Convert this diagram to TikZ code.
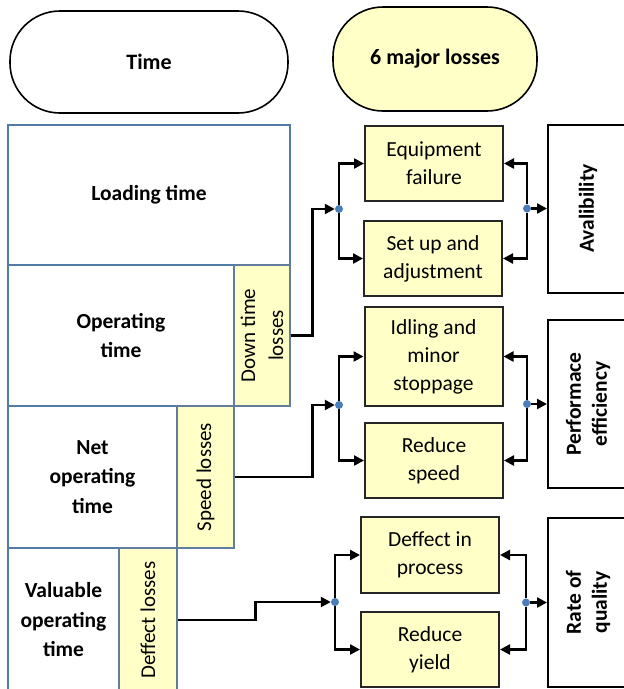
\documentclass[tikz,border=0pt]{standalone}
\usepackage{fontspec}
\setmainfont{Carlito}
\usetikzlibrary{arrows.meta, positioning}
\definecolor{boxblue}{RGB}{84, 122, 168}
\definecolor{lossyellow}{RGB}{255, 255, 200}
\definecolor{dotblue}{RGB}{74, 126, 187}

\begin{document}
\begin{tikzpicture}[
    x=1pt, y=-1pt,
    pill/.style={rectangle, rounded corners=50pt, draw=black, line width=1.6pt, align=center, font=\fontsize{22}{26}\selectfont\bfseries},
    timebox/.style={rectangle, draw=boxblue, fill=white, line width=1.6pt, align=center, font=\fontsize{21.5}{29.5}\selectfont\bfseries},
    lossstrip/.style={rectangle, draw=boxblue!70!gray, fill=lossyellow, line width=1.2pt, rotate=90, align=center, font=\fontsize{21}{28}\selectfont},
    lossbox/.style={rectangle, draw=black!85, fill=lossyellow, line width=2pt, minimum width=138pt, align=center, font=\fontsize{21.5}{28}\selectfont},
    ratiobox/.style={rectangle, draw=black, fill=white, line width=2pt, rotate=90, minimum height=80pt, align=center, font=\fontsize{21.5}{26}\selectfont\bfseries},
    junction/.style={circle, fill=dotblue, inner sep=0pt, minimum size=8pt},
    arrow/.style={line width=2.4pt, -{Triangle[length=10pt, width=10pt]}}
]
    \useasboundingbox (0,0) rectangle (624,689);
    \clip (0,0) rectangle (624,689);

    % headers
    \node (time) [pill, minimum width=278pt, minimum height=102pt] at (149,62) {Time};
    \node (major) [pill, fill=lossyellow, minimum width=204pt, minimum height=104pt] at (435,59) {6 major losses};

    % time stack
    \node (loading) [timebox, minimum width=282pt, minimum height=140pt] at (149,195) {Loading time};
    \node (operating) [timebox, minimum width=226pt, minimum height=141pt] at (121,335.5) {Operating\\time};
    \node (downtime) [lossstrip, minimum width=141pt, minimum height=56pt] at (262,335.5) {Down time\\losses};
    \node (netop) [timebox, minimum width=169pt, minimum height=142pt] at (92.5,477) {Net\\operating\\time};
    \node (speed) [lossstrip, minimum width=142pt, minimum height=57pt] at (205.5,477) {Speed losses};
    \node (valuable) [timebox, minimum width=111pt, minimum height=144pt] at (63.5,620) {Valuable\\operating\\time};
    \node (deffect) [lossstrip, minimum width=144pt, minimum height=58pt] at (148,620) {Deffect losses};

    % six losses
    \node (equip) [lossbox, minimum height=75pt] at (434,163.5) {Equipment\\failure};
    \node (setup) [lossbox, minimum height=75pt] at (433,258.5) {Set up and\\adjustment};
    \node (idling) [lossbox, minimum height=99pt] at (433.5,356.5) {Idling and\\minor\\stoppage};
    \node (redspeed) [lossbox, minimum height=75pt] at (434,460.5) {Reduce\\speed};
    \node (process) [lossbox, minimum height=76pt] at (430,555) {Deffect in\\process};
    \node (yield) [lossbox, minimum height=75pt] at (430,649.5) {Reduce\\yield};

    % ratios
    \node (avail) [ratiobox, minimum width=168pt] at (588,208.5) {Avalibility};
    \node (perf) [ratiobox, minimum width=168pt] at (588,404) {Performace\\efficiency};
    \node (quality) [ratiobox, minimum width=169pt] at (588,602.5) {Rate of\\quality};

    % junctions
    \node (jA) [junction] at (339,209) {};
    \node (jB) [junction] at (339,405) {};
    \node (jC) [junction] at (335,602) {};
    \node (kA) [junction] at (527,208.5) {};
    \node (kB) [junction] at (527,404) {};
    \node (kC) [junction] at (526,602.5) {};

    % connectors
    \draw [arrow] (downtime.south) -- ++(22,0) |- (jA);
    \draw [arrow] (speed.south) -- ++(78,0) |- (jB);
    \draw [arrow] (deffect.south) -- ++(78,0) |- (jC);

    \draw [arrow] (jA) |- (equip);
    \draw [arrow] (jA) |- (setup);
    \draw [arrow] (jB) |- (idling);
    \draw [arrow] (jB) |- (redspeed);
    \draw [arrow] (jC) |- (process);
    \draw [arrow] (jC) |- (yield);

    \draw [arrow] (kA) |- (equip);
    \draw [arrow] (kA) |- (setup);
    \draw [arrow] (kB) |- (idling);
    \draw [arrow] (kB) |- (redspeed);
    \draw [arrow] (kC) |- (process);
    \draw [arrow] (kC) |- (yield);

    \draw [arrow] (kA) -- (avail);
    \draw [arrow] (kB) -- (perf);
    \draw [arrow] (kC) -- (quality);
\end{tikzpicture}
\end{document}
